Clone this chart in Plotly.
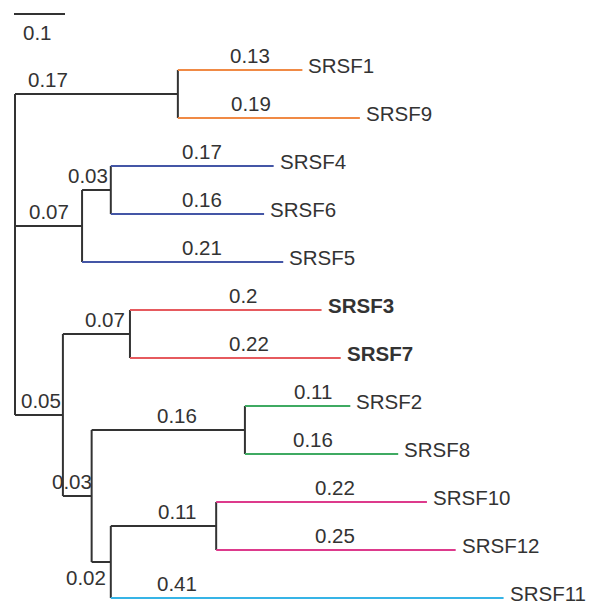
import plotly.graph_objects as go

# ---------------- data ----------------
node_names = ["root", "A", "SRSF1", "SRSF9",
              "B", "C", "SRSF4", "SRSF6", "SRSF5",
              "D", "E", "SRSF3", "SRSF7",
              "F", "G", "SRSF2", "SRSF8",
              "H", "I", "SRSF10", "SRSF12", "SRSF11"]
node_parents = [None, "root", "A", "A",
                "root", "B", "C", "C", "B",
                "root", "D", "E", "E",
                "D", "F", "G", "G",
                "F", "H", "I", "I", "H"]
branch_lengths = [0.0, 0.17, 0.13, 0.19,
                  0.07, 0.03, 0.17, 0.16, 0.21,
                  0.05, 0.07, 0.2, 0.22,
                  0.03, 0.16, 0.11, 0.16,
                  0.02, 0.11, 0.22, 0.25, 0.41]
tip_order = ["SRSF1", "SRSF9", "SRSF4", "SRSF6", "SRSF5", "SRSF3", "SRSF7",
             "SRSF2", "SRSF8", "SRSF10", "SRSF12", "SRSF11"]
bold_tips = ["SRSF3", "SRSF7"]
clade_of_tip = {"SRSF1": "orange", "SRSF9": "orange",
                "SRSF4": "blue", "SRSF6": "blue", "SRSF5": "blue",
                "SRSF3": "red", "SRSF7": "red",
                "SRSF2": "green", "SRSF8": "green",
                "SRSF10": "magenta", "SRSF12": "magenta",
                "SRSF11": "cyan"}
scale_bar_label = "0.1"

# ---------------- styles / layout ----------------
W, H = 597, 602
PX_PER_UNIT = 958.0
ROOT_PX = 15.0
TIP0_PX = 70.0
TIP_STEP_PX = 48.0
LINE_W = 2
DARK = "#333333"
clade_colors = {"orange": "#F08A45", "blue": "#4456A6", "red": "#E65A5E",
                "green": "#3FAA62", "magenta": "#DD3A8C", "cyan": "#36B4E6"}
FONT = "Liberation Sans, Arial, sans-serif"
FS = 20.5

# label x-centre positions (data units) for branch labels, per node
label_x = {"A": 0.034, "SRSF1": 0.245, "SRSF9": 0.246,
           "B": 0.035, "C": 0.076, "SRSF4": 0.195, "SRSF6": 0.195, "SRSF5": 0.195,
           "D": 0.027, "E": 0.094, "SRSF3": 0.238, "SRSF7": 0.244,
           "F": 0.059, "G": 0.169, "SRSF2": 0.311, "SRSF8": 0.311,
           "H": 0.074, "I": 0.169, "SRSF10": 0.334, "SRSF12": 0.334, "SRSF11": 0.169}
labels_below = ["H"]

# ---------------- compute tree geometry ----------------
parent = dict(zip(node_names, node_parents))
blen = dict(zip(node_names, branch_lengths))
children = {n: [] for n in node_names}
for n, p in parent.items():
    if p is not None:
        children[p].append(n)

xpos = {}
def set_x(n, x0):
    xpos[n] = x0 + blen[n]
    for c in children[n]:
        set_x(c, xpos[n])
set_x("root", 0.0)

ypos = {}
def set_y(n):
    if not children[n]:
        ypos[n] = tip_order.index(n)
    else:
        ys = [set_y(c) for c in children[n]]
        ypos[n] = (min(ys) + max(ys)) / 2.0
    return ypos[n]
set_y("root")

def edge_color(n):
    return clade_colors[clade_of_tip[n]] if n in clade_of_tip else DARK

fig = go.Figure()

# group horizontal segments by colour
segs = {}
for n in node_names:
    p = parent[n]
    if p is None:
        continue
    col = edge_color(n)
    segs.setdefault(col, ([], []))
    segs[col][0].extend([xpos[p], xpos[n], None])
    segs[col][1].extend([ypos[n], ypos[n], None])
# vertical connectors (dark)
vx, vy = [], []
for n in node_names:
    if children[n]:
        ys = [ypos[c] for c in children[n]]
        vx.extend([xpos[n], xpos[n], None])
        vy.extend([min(ys), max(ys), None])
fig.add_trace(go.Scatter(x=vx, y=vy, mode="lines", line=dict(color=DARK, width=LINE_W),
                         hoverinfo="skip", showlegend=False))
for col, (sx, sy) in segs.items():
    fig.add_trace(go.Scatter(x=sx, y=sy, mode="lines", line=dict(color=col, width=LINE_W),
                             hoverinfo="skip", showlegend=False))

# branch length labels
for n in node_names:
    if parent[n] is None:
        continue
    below = n in labels_below
    fig.add_annotation(x=label_x[n], y=ypos[n], text=f"{blen[n]:g}",
                       showarrow=False, xanchor="center",
                       yanchor="top" if below else "bottom",
                       yshift=-2 if below else 1,
                       font=dict(family=FONT, size=FS, color=DARK))

# tip labels
for t in tip_order:
    txt = f"<b>{t}</b>" if t in bold_tips else t
    fig.add_annotation(x=xpos[t], y=ypos[t], text=txt, showarrow=False,
                       xanchor="left", yanchor="middle", xshift=4, yshift=5,
                       font=dict(family=FONT, size=FS, color=DARK))

# scale bar
x_lo = -ROOT_PX / PX_PER_UNIT
x_hi = (W - ROOT_PX) / PX_PER_UNIT
y_top = -TIP0_PX / TIP_STEP_PX
y_bot = (H - TIP0_PX) / TIP_STEP_PX
sb_y = (14 - TIP0_PX) / TIP_STEP_PX
sb_x0 = -1 / PX_PER_UNIT
sb_x1 = 50 / PX_PER_UNIT
fig.add_shape(type="line", x0=sb_x0, x1=sb_x1, y0=sb_y, y1=sb_y,
              line=dict(color=DARK, width=LINE_W))
fig.add_annotation(x=(21 - ROOT_PX) / PX_PER_UNIT, y=sb_y, text=scale_bar_label,
                   showarrow=False, xanchor="left", yanchor="top", yshift=-5,
                   font=dict(family=FONT, size=FS, color=DARK))

fig.update_layout(width=W, height=H, margin=dict(l=0, r=0, t=0, b=0),
                  paper_bgcolor="white", plot_bgcolor="white", showlegend=False)
fig.update_xaxes(range=[x_lo, x_hi], visible=False)
fig.update_yaxes(range=[y_bot, y_top], visible=False)

fig.write_html("out.html")
